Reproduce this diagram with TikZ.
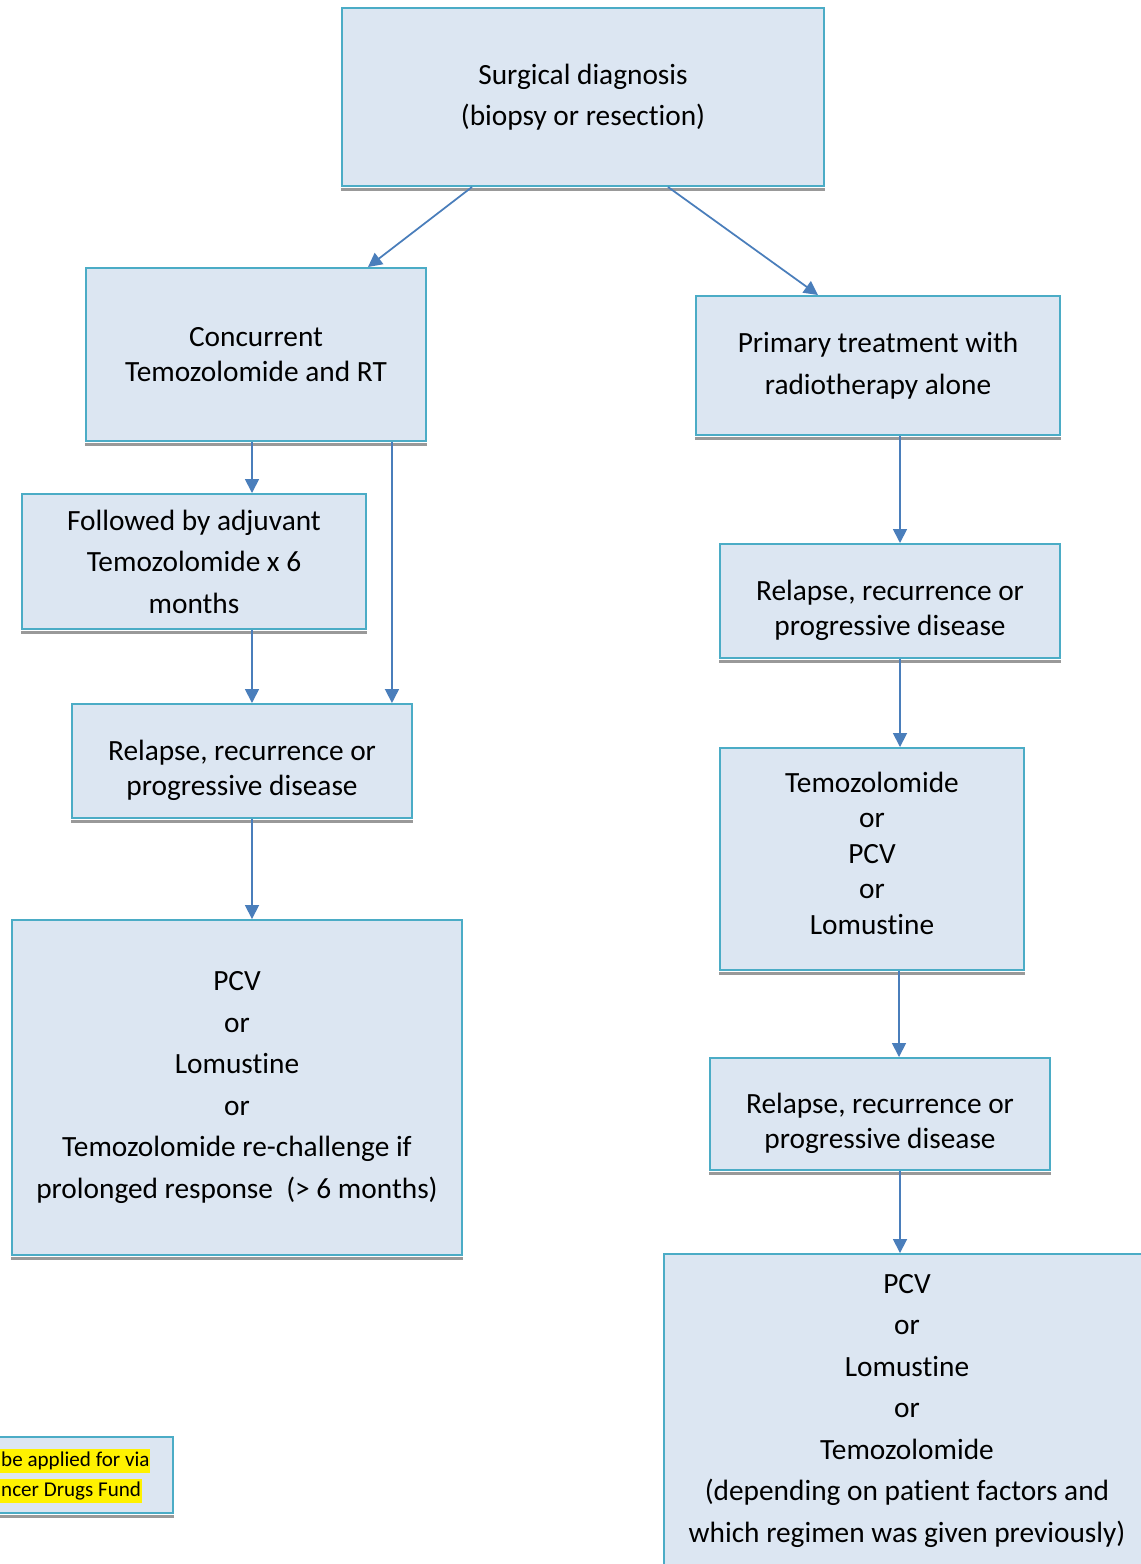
\documentclass[tikz,border=0pt]{standalone}
\usepackage{fontspec}
\setmainfont{Carlito}[Ligatures=NoCommon]
\usetikzlibrary{arrows.meta}
\definecolor{boxfill}{HTML}{DCE6F2}
\definecolor{boxline}{HTML}{4BACC6}
\definecolor{arrowblue}{HTML}{4A7EBB}
% struts that move a box text down (padtop) or up (padbottom)
\newcommand\padtop{\rule{0pt}{22pt}}
\newcommand\padbottom{\rule[-7pt]{0pt}{0pt}}
\tikzset{
  box/.style={draw=boxline, line width=0.04cm, fill=boxfill, align=center,
    inner sep=0pt, font=\fontsize{16.7}{23.6}\selectfont},
  tightbox/.style={box, font=\fontsize{16.7}{20.2}\selectfont},
  shadowline/.style={draw=black!40, line width=0.05cm},
  arrow/.style={draw=arrowblue, line width=0.035cm,
    -{Triangle[length=0.28cm,width=0.28cm]}},
  marker/.style={fill=yellow, inner xsep=0.5pt, inner ysep=1.5pt,
    font=\fontsize{12}{14}\selectfont, anchor=west}
}
\begin{document}
\begin{tikzpicture}[x=0.02cm,y=-0.02cm]
  \clip (0,0) rectangle (1141,1564);
  \fill[white] (0,0) rectangle (1141,1564);
  % boxes
  \node[box, minimum width=9.64cm, minimum height=3.56cm] (diag) at (583,97)
    {Surgical diagnosis\\(biopsy or resection)};
  \node[tightbox, minimum width=6.8cm, minimum height=3.46cm] (conc) at (256,354.5)
    {Concurrent\\Temozolomide and RT};
  \node[box, minimum width=7.28cm, minimum height=2.78cm] (prim) at (878,365.5)
    {Primary treatment with\\radiotherapy alone};
  \node[box, minimum width=6.88cm, minimum height=2.7cm] (adj) at (194,561.5)
    {Followed by adjuvant\\Temozolomide x 6\\months};
  \node[tightbox, minimum width=6.8cm, minimum height=2.28cm] (relL) at (242,761)
    {\padtop Relapse, recurrence or\\progressive disease};
  \node[box, minimum width=9cm, minimum height=6.7cm] (pcvL) at (237,1087.5)
    {PCV\\or\\Lomustine\\or\\Temozolomide re-challenge if\\prolonged response\ \ (> 6 months)};
  \node[tightbox, minimum width=6.8cm, minimum height=2.28cm] (relR) at (890,601)
    {\padtop Relapse, recurrence or\\progressive disease};
  \node[tightbox, minimum width=6.08cm, minimum height=4.44cm] (temo) at (872,859)
    {Temozolomide\\or\\PCV\\or\\Lomustine\padbottom};
  \node[tightbox, minimum width=6.8cm, minimum height=2.24cm] (relRR) at (880,1114)
    {\padtop Relapse, recurrence or\\progressive disease};
  \node[box, minimum width=9.72cm, minimum height=6.52cm] (pcvR) at (907,1417)
    {PCV\\or\\Lomustine\\or\\Temozolomide\\(depending on patient factors and\\which regimen was given previously)\rule[-10pt]{0pt}{0pt}};
  \node[box, minimum width=4.06cm, minimum height=1.52cm] (note) at (71.5,1475) {};
  \node[marker] (note1) at (0,1461) {be applied for via};
  \node[marker] (note2) at (0,1491) {ncer Drugs Fund};
  % shadows under the boxes
  \foreach \n in {diag,conc,prim,adj,relL,pcvL,relR,temo,relRR,note}
    \draw[shadowline] ([yshift=-0.05cm]\n.south west) -- ([yshift=-0.05cm]\n.south east);
  % connectors
  \draw[arrow] ([xshift=-2.22cm]diag.south) -- ([xshift=2.24cm]conc.north);
  \draw[arrow] ([xshift=1.7cm]diag.south) -- ([xshift=-1.2cm]prim.north);
  \draw[arrow] ([xshift=-0.08cm]conc.south) -- ([xshift=-0.08cm]conc.south |- adj.north);
  \draw[arrow] ([xshift=2.72cm]conc.south) -- ([xshift=2.72cm]conc.south |- relL.north);
  \draw[arrow] ([xshift=1.16cm]adj.south) -- ([xshift=1.16cm]adj.south |- relL.north);
  \draw[arrow] ([xshift=0.2cm]relL.south) -- ([xshift=0.2cm]relL.south |- pcvL.north);
  \draw[arrow] ([xshift=0.44cm]prim.south) -- ([xshift=0.44cm]prim.south |- relR.north);
  \draw[arrow] ([xshift=0.2cm]relR.south) -- ([xshift=0.2cm]relR.south |- temo.north);
  \draw[arrow] ([xshift=0.54cm]temo.south) -- ([xshift=0.54cm]temo.south |- relRR.north);
  \draw[arrow] ([xshift=0.4cm]relRR.south) -- ([xshift=0.4cm]relRR.south |- pcvR.north);
\end{tikzpicture}
\end{document}
